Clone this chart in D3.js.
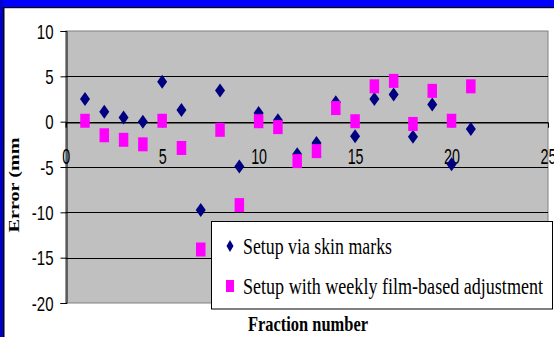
<!DOCTYPE html>
<html>
<head>
<meta charset="utf-8">
<script src="https://cdn.jsdelivr.net/npm/d3@7"></script>
<style>
  html, body { margin: 0; padding: 0; background: #fff; }
  svg { display: block; }
</style>
</head>
<body>
<svg id="chart" width="554" height="337"></svg>
<script>
// Setup error per treatment fraction (mm)
const fractions = [1,2,3,4,5,6,7,8,9,10,11,12,13,14,15,16,17,18,19,20,21];
const skinMarks = [2.5,1.1,0.45,0,4.4,1.3,-9.75,3.45,-4.95,0.95,0.15,-3.6,-2.35,2.15,-1.6,2.5,3.0,-1.65,1.9,-4.7,-0.8];
const weeklyFilm = [0.1,-1.5,-2.0,-2.5,0.1,-2.9,-14.1,-0.9,-9.2,0.05,-0.6,-4.35,-3.25,1.5,0.05,3.9,4.5,-0.25,3.4,0.1,3.9];
const xTicks = [0,5,10,15,20,25];
const yTicks = [-20,-15,-10,-5,0,5,10];
const seriesNames = ["Setup via skin marks", "Setup with weekly film-based adjustment"];

const svg = d3.select("#chart");

// frame: blue band on top and left
svg.append("rect").attr("x",0).attr("y",0).attr("width",554).attr("height",7).attr("fill","#0000ff");
svg.append("rect").attr("x",0).attr("y",7).attr("width",554).attr("height",1.2).attr("fill","#000");
svg.append("rect").attr("x",0).attr("y",0).attr("width",3).attr("height",337).attr("fill","#0000cc");
svg.append("rect").attr("x",3).attr("y",7).attr("width",1.5).attr("height",330).attr("fill","#000");

const plot = {left: 65.7, right: 548, top: 31, bottom: 303};
const x = d3.scaleLinear().domain([0,25]).range([plot.left, plot.right]);
const y = d3.scaleLinear().domain([-20,10]).range([plot.bottom, plot.top]);

// plain hyphen-minus labels
const fmt = d => String(d);

// plot area
svg.append("rect")
  .attr("x", plot.left).attr("y", plot.top)
  .attr("width", plot.right - plot.left).attr("height", plot.bottom - plot.top)
  .attr("fill", "#c0c0c0").attr("stroke", "#808080").attr("stroke-width", 1);

// horizontal gridlines
svg.append("g").selectAll("line")
  .data(yTicks.filter(t => t > -20 && t < 10))
  .join("line")
  .attr("x1", plot.left).attr("x2", plot.right)
  .attr("y1", d => Math.round(y(d)) + 0.5).attr("y2", d => Math.round(y(d)) + 0.5)
  .attr("stroke", "#000").attr("stroke-width", 1);

// y axis
const yAxis = svg.append("g")
  .attr("transform", `translate(${Math.round(plot.left)+0.5},0)`)
  .call(d3.axisLeft(y).tickValues(yTicks).tickSize(6).tickPadding(0).tickFormat(fmt));
yAxis.select(".domain").attr("stroke", "#000");
yAxis.selectAll(".tick line").attr("stroke", "#000");
yAxis.selectAll(".tick text")
  .attr("font-family", "Arial, 'Liberation Sans', sans-serif")
  .attr("font-size", 20).attr("fill", "#000")
  .attr("text-anchor", "end").attr("x", 0).attr("dy", "0.35em")
  .attr("transform", "translate(-13,0) scale(0.75,1)");

// x axis sits on the zero line
const xAxis = svg.append("g")
  .attr("transform", `translate(0,${Math.round(y(0))+0.5})`)
  .call(d3.axisBottom(x).tickValues(xTicks).tickSize(5).tickFormat(fmt));
xAxis.select(".domain").attr("stroke", "#000");
xAxis.selectAll(".tick line").attr("stroke", "#000");
xAxis.selectAll(".tick text")
  .attr("font-family", "Arial, 'Liberation Sans', sans-serif")
  .attr("font-size", 22).attr("fill", "#000")
  .attr("y", 0).attr("dy", 0)
  .attr("transform", "translate(0,41) scale(0.65,1)");

// markers
const diamond = (cx, cy, hw, hh) => `M${cx},${cy-hh}L${cx+hw},${cy}L${cx},${cy+hh}L${cx-hw},${cy}Z`;

svg.append("g").selectAll("path")
  .data(fractions.map((f,i) => [f, skinMarks[i]]))
  .join("path")
  .attr("d", d => diamond(x(d[0]), y(d[1]), 5, 7))
  .attr("fill", "#000080");

svg.append("g").selectAll("rect")
  .data(fractions.map((f,i) => [f, weeklyFilm[i]]))
  .join("rect")
  .attr("x", d => x(d[0]) - 4.75).attr("y", d => y(d[1]) - 7)
  .attr("width", 9.5).attr("height", 14)
  .attr("fill", "#ff00ff");

// y axis title
svg.append("text")
  .attr("transform", "translate(19,185) rotate(-90)")
  .attr("text-anchor", "middle")
  .attr("font-family", "'Liberation Serif', 'Times New Roman', serif")
  .attr("font-weight", "bold").attr("font-size", 14)
  .attr("textLength", 95).attr("lengthAdjust", "spacingAndGlyphs")
  .text("Error (mm");

// x axis title
svg.append("text")
  .attr("x", 248).attr("y", 331)
  .attr("font-family", "'Liberation Serif', 'Times New Roman', serif")
  .attr("font-weight", "bold").attr("font-size", 21)
  .attr("textLength", 120).attr("lengthAdjust", "spacingAndGlyphs")
  .text("Fraction number");

// legend
const lg = svg.append("g");
lg.append("rect")
  .attr("x", 211.5).attr("y", 221.5).attr("width", 341).attr("height", 87.5)
  .attr("fill", "#fff").attr("stroke", "#000").attr("stroke-width", 1);
lg.append("path").attr("d", diamond(230, 246, 3.5, 6)).attr("fill", "#000080");
lg.append("rect").attr("x", 226).attr("y", 280).attr("width", 8).attr("height", 12).attr("fill", "#ff00ff");
const legendWidths = [149, 300];
lg.selectAll("text.leg")
  .data(seriesNames)
  .join("text")
  .attr("class", "leg")
  .attr("x", 243).attr("y", (d,i) => 254 + i*40)
  .attr("font-family", "'Liberation Serif', 'Times New Roman', serif")
  .attr("font-size", 23)
  .attr("textLength", (d,i) => legendWidths[i]).attr("lengthAdjust", "spacingAndGlyphs")
  .text(d => d);
</script>
</body>
</html>
